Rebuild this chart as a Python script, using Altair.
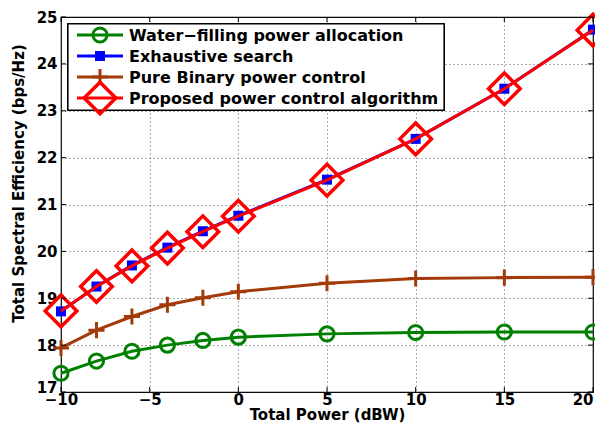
import altair as alt
import pandas as pd

power = [-10, -8, -6, -4, -2, 0, 5, 10, 15, 20]
water = [17.40, 17.66, 17.87, 18.00, 18.10, 18.17, 18.24, 18.27, 18.28, 18.28]
exhaustive = [18.72, 19.25, 19.70, 20.08, 20.43, 20.76, 21.53, 22.40, 23.47, 24.73]
binary = [17.94, 18.32, 18.61, 18.86, 19.01, 19.14, 19.32, 19.42, 19.44, 19.45]
proposed = [18.73, 19.25, 19.69, 20.07, 20.42, 20.75, 21.52, 22.40, 23.47, 24.72]

names = ["Water\u2212filling power allocation", "Exhaustive search",
         "Pure Binary power control", "Proposed power control algorithm"]
colors = ["#008000", "#0000FF", "#A33A0A", "#FF0000"]

x_ticks = [-10, -5, 0, 5, 10, 15, 20]
y_ticks = [17, 18, 19, 20, 21, 22, 23, 24, 25]

W, H = 532, 375
FONT = "DejaVu Sans"

xs = alt.Scale(domain=[-10, 20], nice=False, zero=False)
ys = alt.Scale(domain=[17, 25], nice=False, zero=False)

X = alt.X("x:Q", scale=xs, axis=alt.Axis(
    values=x_ticks, title="Total Power (dBW)", grid=True, tickSize=0,
    labelPadding=0, titlePadding=0,
    labelAlign=alt.ExprRef(expr="datum.value === 20 ? 'right' : 'center'")))
Y = alt.Y("y:Q", scale=ys, axis=alt.Axis(
    values=y_ticks, title="Total Spectral Efficiency (bps/Hz)", grid=True, tickSize=0,
    labelPadding=4, titleX=-43, titleY=166, titleBaseline="middle",
    labelBaseline=alt.ExprRef(expr="datum.value === 17 ? 'alphabetic' : 'middle'"),
    titleAlign="center", titleAngle=270))

def series(vals, color, shape, size, filled, sw, lw=3):
    df = pd.DataFrame({"x": power, "y": vals})
    base = alt.Chart(df)
    line = base.mark_line(color=color, strokeWidth=lw).encode(x=X, y=Y)
    pt = base.mark_point(shape=shape, size=size, filled=filled, color=color,
                         strokeWidth=sw, opacity=1).encode(x="x:Q", y="y:Q")
    return [line, pt]

PLUS = "M-1,0L1,0M0,-1L0,1"

layers = []
layers += series(water, colors[0], "circle", 200, False, 3)
layers += series(exhaustive, colors[1], "square", 100, True, 0)
layers += series(binary, colors[2], PLUS, 260, False, 3)
layers += series(proposed, colors[3], "diamond", 1000, False, 3.5)

# inward tick marks on all four sides
xt = pd.DataFrame({"x": x_ticks})
yt = pd.DataFrame({"y": y_ticks})
tk = dict(color="black", strokeWidth=1)
layers.append(alt.Chart(xt).mark_rule(**tk).encode(x="x:Q", y=alt.value(H), y2=alt.value(H - 5)))
layers.append(alt.Chart(xt).mark_rule(**tk).encode(x="x:Q", y=alt.value(0), y2=alt.value(5)))
layers.append(alt.Chart(yt).mark_rule(**tk).encode(y="y:Q", x=alt.value(0), x2=alt.value(5)))
layers.append(alt.Chart(yt).mark_rule(**tk).encode(y="y:Q", x=alt.value(W), x2=alt.value(W - 5)))

# legend box
lx0, lx1, ly0, ly1 = 7, 383, 7, 93
layers.append(alt.Chart(xt).mark_rect(fill="white", stroke="black", strokeWidth=1.2).encode(
    x=alt.value(lx0), x2=alt.value(lx1), y=alt.value(ly0), y2=alt.value(ly1)))

rows = [18, 39, 60, 81]
marks = [("circle", 200, False, 3), ("square", 100, True, 0), (PLUS, 260, False, 3), ("diamond", 1000, False, 3.5)]
for i in range(4):
    ry = rows[i]
    c = colors[i]
    one = pd.DataFrame({"t": [names[i]]})
    layers.append(alt.Chart(one).mark_rule(color=c, strokeWidth=3).encode(
        x=alt.value(16), x2=alt.value(62), y=alt.value(ry)))
    shp, sz, fl, sw = marks[i]
    layers.append(alt.Chart(one).mark_point(shape=shp, size=sz, filled=fl, color=c,
                                            strokeWidth=sw, opacity=1).encode(
        x=alt.value(39), y=alt.value(ry)))
    layers.append(alt.Chart(one).mark_text(align="left", baseline="middle", font=FONT,
                                           fontSize=16, fontWeight="bold", color="black").encode(
        x=alt.value(68), y=alt.value(ry + 1), text="t:N"))

chart = alt.layer(*layers).properties(
    width=W, height=H,
    background="white",
    autosize=alt.AutoSizeParams(type="none"),
    padding={"left": 53, "top": 9, "right": 2, "bottom": 31},
).configure_view(stroke="black", strokeWidth=1.2).configure_axis(
    domain=False,
    gridColor="#333333", gridDash=[1, 3], gridWidth=1, gridOpacity=0.8,
    labelFont=FONT, labelFontSize=15, labelFontWeight="bold", labelColor="black",
    titleFont=FONT, titleFontSize=15, titleFontWeight="bold", titleColor="black",
)

chart.save("out.html", embed_options={"renderer": "svg", "actions": False})
